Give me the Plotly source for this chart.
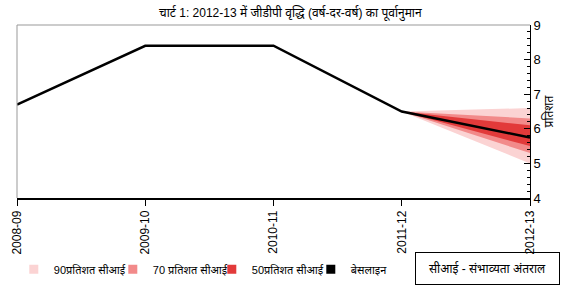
import plotly.graph_objects as go

categories = ["2008-09", "2009-10", "2010-11", "2011-12", "2012-13"]
baseline = [6.7, 8.4, 8.4, 6.5, 5.75]

# fan chart bands (start at 2011-12, end at 2012-13)
fan_x = ["2011-12", "2012-13"]
ci90_upper = [6.5, 6.6]
ci90_lower = [6.5, 5.0]
ci70_upper = [6.5, 6.3]
ci70_lower = [6.5, 5.3]
ci50_upper = [6.5, 6.1]
ci50_lower = [6.5, 5.5]

legend_names = ["90प्रतिशत सीआई", "70 प्रतिशत सीआई", "50प्रतिशत सीआई", "बेसलाइन"]
colors = ["#fbd3d3", "#f28a8a", "#e23a3a", "#000000"]

title = "चार्ट 1: 2012-13 में जीडीपी वृद्धि (वर्ष-दर-वर्ष) का पूर्वानुमान"
y_title = "प्रतिशत"
note = "सीआई - संभाव्यता अंतराल"

FONT = "Arial, 'Liberation Sans', 'Noto Sans', sans-serif"

fig = go.Figure()

bands = [(ci90_upper, ci90_lower, colors[0]),
         (ci70_upper, ci70_lower, colors[1]),
         (ci50_upper, ci50_lower, colors[2])]
for up, lo, col in bands:
    fig.add_trace(go.Scatter(
        x=fan_x + fan_x[::-1], y=up + lo[::-1],
        fill="toself", fillcolor=col, mode="none",
        showlegend=False, hoverinfo="skip"))

fig.add_trace(go.Scatter(x=categories, y=baseline, mode="lines",
                         line=dict(color="black", width=2.5), showlegend=False))

for name, col in zip(legend_names, colors):
    fig.add_trace(go.Scatter(x=[None], y=[None], mode="markers", name=name,
                             marker=dict(symbol="square", size=9, color=col)))

fig.update_layout(
    width=575, height=289,
    margin=dict(l=17, r=45, t=25, b=91, autoexpand=False),
    paper_bgcolor="white", plot_bgcolor="white",
    font=dict(family=FONT, size=12, color="black"),
    title=dict(text=title, x=0.505, xanchor="center", y=0.955, yanchor="middle",
               font=dict(size=12)),
    showlegend=True,
    legend=dict(orientation="h", x=0.024, y=0.068, xref="container", yref="container",
                xanchor="left", yanchor="middle",
                font=dict(size=11), itemwidth=30,
                entrywidth=54, entrywidthmode="pixels",
                bgcolor="rgba(0,0,0,0)"),
    xaxis=dict(type="category", categoryorder="array", categoryarray=categories,
               range=[0, 4], tickangle=-90, ticks="outside", ticklen=6,
               tickcolor="black", showline=True, linecolor="black", linewidth=1.5,
               showgrid=False, zeroline=False, mirror=False, automargin=False,
               tickfont=dict(size=12)),
    yaxis=dict(side="right", range=[4, 9], dtick=1, ticks="inside", ticklen=6,
               tickcolor="black", showline=True, linecolor="black", linewidth=1,
               showgrid=False, zeroline=False, automargin=False,
               minor=dict(dtick=0.2, ticks="inside", ticklen=3, tickcolor="black"),
               title=dict(text=y_title, standoff=4, font=dict(size=12)),
               tickfont=dict(size=13)),
    shapes=[
        dict(type="line", xref="paper", yref="paper", x0=0, x1=1, y0=1, y1=1,
             line=dict(color="#999999", width=1)),
        dict(type="line", xref="paper", yref="paper", x0=0, x1=0, y0=0, y1=1,
             line=dict(color="#999999", width=1)),
    ],
    annotations=[
        dict(text=note, xref="paper", yref="paper", x=0.917, y=-0.4075,
             xanchor="center", yanchor="middle", showarrow=False,
             bordercolor="black", borderwidth=1, borderpad=8,
             width=127, font=dict(size=12)),
    ],
)

fig.write_html("out.html")
